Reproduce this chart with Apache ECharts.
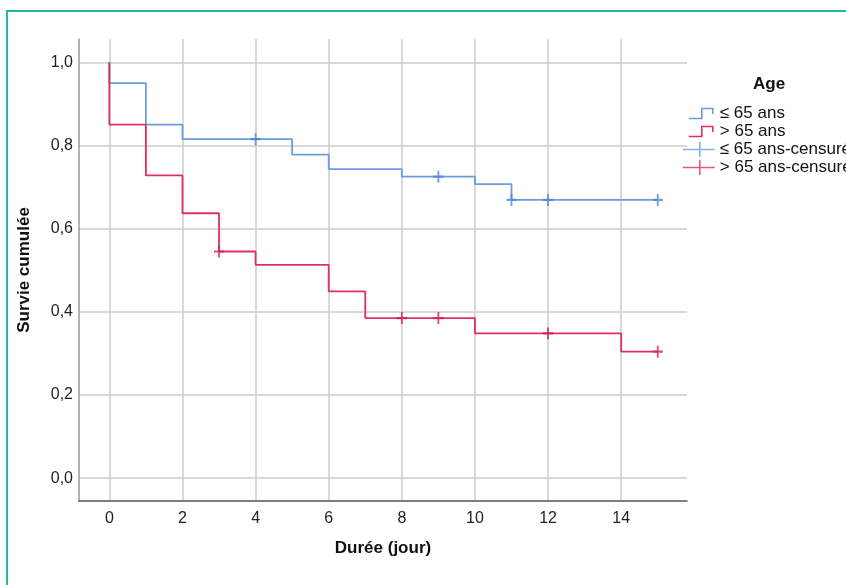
<!DOCTYPE html>
<html><head><meta charset="utf-8">
<script src="https://cdn.jsdelivr.net/npm/echarts@6/dist/echarts.min.js"></script>
<style>html,body{margin:0;padding:0;background:#fff}#c{width:846px;height:585px}</style>
</head><body><div id="c"></div>
<script>
// ---- data ----
const xTicks = [0, 2, 4, 6, 8, 10, 12, 14];
const yTicks = [0, 0.2, 0.4, 0.6, 0.8, 1.0];
const groupNames = ['≤ 65 ans', '> 65 ans'];
const censNames = ['≤ 65 ans-censuré', '> 65 ans-censuré'];
const youngTimes = [0, 0, 1, 2, 5, 6, 8, 10, 11, 15];
const youngSurv  = [1, 0.95, 0.85, 0.815, 0.778, 0.743, 0.725, 0.707, 0.669, 0.669];
const oldTimes   = [0, 0, 1, 2, 3, 4, 6, 7, 10, 14, 15];
const oldSurv    = [1, 0.85, 0.728, 0.637, 0.545, 0.513, 0.449, 0.385, 0.348, 0.304, 0.304];
const youngCensT = [4, 9, 11, 12, 15];
const youngCensS = [0.815, 0.725, 0.669, 0.669, 0.669];
const oldCensT   = [3, 8, 9, 12, 15];
const oldCensS   = [0.545, 0.385, 0.385, 0.348, 0.304];

const BLUE = '#6a9be3', RED = '#e0305f';
const FONT = "'Liberation Sans', Arial, sans-serif";
const zip = (a, b) => a.map((v, i) => [v, b[i]]);
const stepIcon = 'path://M0,0 M32,15 M6,12.5 L19,12.5 L19,2.5 L30,2.5 L30,8';
const crossIcon = 'path://M0,7.5 L32,7.5 M17,0 L17,15';
const crossSym = 'path://M0,5 L10,5 M5,0 L5,10';

const chart = echarts.init(document.getElementById('c'), null, {renderer: 'canvas'});
chart.setOption({
  animation: false,
  backgroundColor: '#fff',
  title: {
    text: 'Age', left: 753, top: 76, padding: 0,
    textStyle: {fontFamily: FONT, fontSize: 17, fontWeight: 'bold', color: '#111'}
  },
  legend: {
    orient: 'vertical', left: 682, top: 105, padding: 0,
    itemWidth: 32, itemHeight: 15, itemGap: 1,
    textStyle: {fontFamily: FONT, fontSize: 17, color: '#111'},
    selectedMode: false,
    data: [
      {name: groupNames[0], icon: stepIcon, itemStyle: {color: 'transparent', borderColor: BLUE, borderWidth: 1.6}},
      {name: groupNames[1], icon: stepIcon, itemStyle: {color: 'transparent', borderColor: RED, borderWidth: 1.6}},
      {name: censNames[0], icon: crossIcon, itemStyle: {color: 'transparent', borderColor: BLUE, borderWidth: 1.6}},
      {name: censNames[1], icon: crossIcon, itemStyle: {color: 'transparent', borderColor: RED, borderWidth: 1.6}}
    ]
  },
  grid: {left: 79, right: 159, top: 39, bottom: 84},
  xAxis: {
    type: 'value', min: -0.83, max: 15.8,
    name: 'Durée (jour)', nameLocation: 'middle', nameGap: 39,
    nameTextStyle: {fontFamily: FONT, fontSize: 17, fontWeight: 'bold', color: '#111'},
    axisLine: {show: true, onZero: false, lineStyle: {color: '#555', width: 1.5}},
    axisTick: {show: false, customValues: xTicks},
    axisLabel: {customValues: xTicks, margin: 10, fontFamily: FONT, fontSize: 16, color: '#222'},
    splitLine: {show: true, lineStyle: {color: '#cccccc', width: 1.5}}
  },
  yAxis: {
    type: 'value', min: -0.055, max: 1.056,
    name: 'Survie cumulée', nameLocation: 'middle', nameGap: 46,
    nameTextStyle: {fontFamily: FONT, fontSize: 17, fontWeight: 'bold', color: '#111'},
    axisLine: {show: true, onZero: false, lineStyle: {color: '#999', width: 1.5}},
    axisTick: {show: false, customValues: yTicks},
    axisLabel: {customValues: yTicks, margin: 6, fontFamily: FONT, fontSize: 16, color: '#222',
      formatter: v => v.toFixed(1).replace('.', ',')},
    splitLine: {show: true, lineStyle: {color: '#cccccc', width: 1.5}}
  },
  graphic: [
    {type: 'line', silent: true, shape: {x1: 7, y1: 10, x2: 7, y2: 585}, style: {stroke: '#22b99c', lineWidth: 2}},
    {type: 'line', silent: true, shape: {x1: 6, y1: 11, x2: 846, y2: 11}, style: {stroke: '#22b99c', lineWidth: 2}}
  ],
  series: [
    {name: groupNames[0], type: 'line', step: 'end', data: zip(youngTimes, youngSurv),
     symbol: 'none', lineStyle: {color: BLUE, width: 1.8}, itemStyle: {color: BLUE}, z: 3},
    {name: groupNames[1], type: 'line', step: 'end', data: zip(oldTimes, oldSurv),
     symbol: 'none', lineStyle: {color: RED, width: 1.8}, itemStyle: {color: RED}, z: 4},
    {name: censNames[0], type: 'scatter', data: zip(youngCensT, youngCensS), symbol: crossSym,
     symbolSize: [10, 12], itemStyle: {color: 'transparent', borderColor: '#4f84d6', borderWidth: 2}, z: 5},
    {name: censNames[1], type: 'scatter', data: zip(oldCensT, oldCensS), symbol: crossSym,
     symbolSize: [10, 12], itemStyle: {color: 'transparent', borderColor: '#d0204f', borderWidth: 2}, z: 6}
  ]
});
</script>
</body></html>
